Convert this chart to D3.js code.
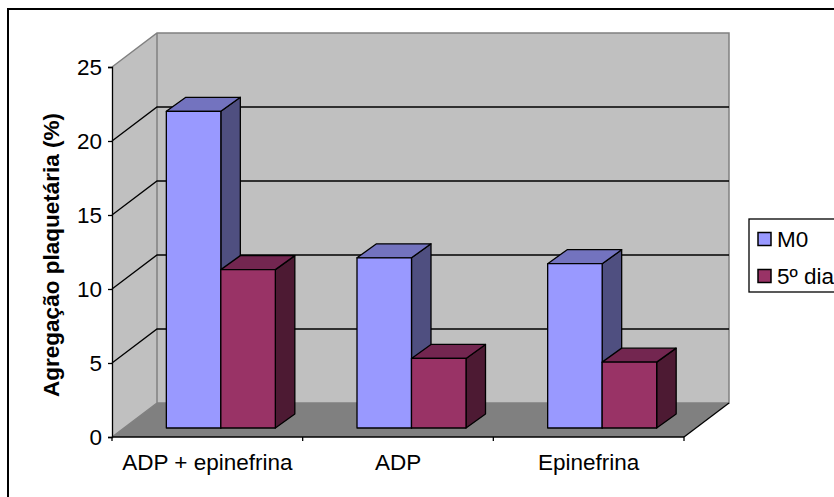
<!DOCTYPE html>
<html><head><meta charset="utf-8"><script src="https://cdn.jsdelivr.net/npm/d3@7"></script>
<style>html,body{margin:0;padding:0;background:#fff;overflow:hidden}svg{display:block}text{font-family:"Liberation Sans",Arial,sans-serif;fill:#000}</style></head>
<body><svg id="c" width="834" height="497"></svg>
<script>
const categories = ["ADP + epinefrina", "ADP", "Epinefrina"];
const seriesNames = ["M0", "5º dia"];
const m0Values = [21.4, 11.5, 11.1];
const dia5Values = [10.7, 4.7, 4.45];
const yTicks = [0, 5, 10, 15, 20, 25];
const colors = ["#9999ff", "#993366"];
const sideColors = ["#4f4f80", "#4d1a33"];
const topColors = ["#7373bf", "#732650"];

const svg = d3.select("#c");
const FS = "22.5px";
const D = {dx: 45, dy: -34};
const y = d3.scaleLinear().domain([0, 25]).range([437, 67]);
const x = d3.scaleBand().domain(categories).range([112, 684]);
const poly = p => p.map(a => a.join(",")).join(" ");

svg.append("rect").attr("x", 8).attr("y", 9).attr("width", 900).attr("height", 600)
  .attr("fill", "#fff").attr("stroke", "#000").attr("stroke-width", 2);

const x0 = 112, x1 = 684, yb = y(0), yt = y(25);
const wall = "#c0c0c0", edge = "#808080";
svg.append("polygon").attr("points", poly([[x0, yb], [x0 + D.dx, yb + D.dy], [x0 + D.dx, yt + D.dy], [x0, yt]])).attr("fill", wall);
svg.append("rect").attr("x", x0 + D.dx).attr("y", yt + D.dy).attr("width", x1 - x0).attr("height", yb - yt).attr("fill", wall);
svg.append("polygon").attr("points", poly([[x0, yb], [x1, yb], [x1 + D.dx, yb + D.dy], [x0 + D.dx, yb + D.dy]])).attr("fill", "#808080");

svg.append("path").attr("fill", "none").attr("stroke", edge).attr("stroke-width", 1.5)
  .attr("d", `M${x0},${yt}L${x0 + D.dx},${yt + D.dy}H${x1 + D.dx}V${yb + D.dy}H${x0 + D.dx}V${yt + D.dy} M${x0},${yb}L${x0 + D.dx},${yb + D.dy}`);

yTicks.filter(t => t > 0 && t < 25).forEach(t => {
  svg.append("path").attr("fill", "none").attr("stroke", "#000").attr("stroke-width", 1.3)
    .attr("d", `M${x0},${y(t)}L${x0 + D.dx},${y(t) + D.dy}H${x1 + D.dx}`);
});

svg.append("line").attr("x1", x1).attr("y1", yb).attr("x2", x1 + D.dx).attr("y2", yb + D.dy).attr("stroke", "#000").attr("stroke-width", 1.3);

// bars
const shift = {x: 12, y: -9}, depth = {x: 19.5, y: -14};
const groupW = 109;
const inner = d3.scaleBand().domain([0, 1]).range([0, groupW]);
const groupOffset = (x.bandwidth() - groupW) / 2 + shift.x + 1.5;
const series = [m0Values, dia5Values];
categories.forEach((c, ci) => {
  [0, 1].forEach(si => {
    const v = series[si][ci];
    const L = x(c) + groupOffset + inner(si), R = L + inner.bandwidth();
    const B = y(0) + shift.y, T = y(v) + shift.y;
    const g = svg.append("g").attr("stroke", "#000").attr("stroke-width", 1.3).attr("stroke-linejoin", "round");
    g.append("polygon").attr("points", poly([[R, T], [R + depth.x, T + depth.y], [R + depth.x, B + depth.y], [R, B]])).attr("fill", sideColors[si]);
    g.append("polygon").attr("points", poly([[L, T], [L + depth.x, T + depth.y], [R + depth.x, T + depth.y], [R, T]])).attr("fill", topColors[si]);
    g.append("rect").attr("x", L).attr("y", T).attr("width", R - L).attr("height", B - T).attr("fill", colors[si]);
  });
});

// axes
const yAxis = d3.axisLeft(y).tickValues(yTicks).tickSize(4).tickPadding(6);
const gy = svg.append("g").attr("transform", `translate(${x0},0)`).call(yAxis);
gy.select(".domain").attr("stroke", "#000").attr("stroke-width", 1.3);
gy.selectAll("line").attr("stroke", "#000").attr("stroke-width", 1.3);
gy.selectAll("text").style("font-family", '"Liberation Sans",Arial,sans-serif').style("font-size", FS);

const xAxis = d3.axisBottom(x).tickSize(0).tickPadding(17.5);
const gx = svg.append("g").attr("transform", `translate(0,${yb})`).call(xAxis);
gx.select(".domain").remove();
gx.selectAll("text").style("font-family", '"Liberation Sans",Arial,sans-serif').style("font-size", FS);
svg.append("line").attr("x1", x0).attr("x2", x1).attr("y1", yb).attr("y2", yb).attr("stroke", "#000").attr("stroke-width", 1.5);
[...categories.map(c => x(c)), x1].forEach(t => svg.append("line").attr("x1", t).attr("x2", t).attr("y1", yb).attr("y2", yb + 4).attr("stroke", "#000").attr("stroke-width", 1.3));

svg.append("text").attr("transform", "translate(59,255) rotate(-90)").attr("text-anchor", "middle")
  .style("font-size", FS).style("font-weight", "bold").text("Agregação plaquetária (%)");

// legend
svg.append("rect").attr("x", 749).attr("y", 219).attr("width", 120).attr("height", 73).attr("fill", "#fff").attr("stroke", "#000").attr("stroke-width", 1.3);
seriesNames.forEach((n, i) => {
  const ly = 239 + i * 37;
  svg.append("rect").attr("x", 758).attr("y", ly - 6.5).attr("width", 13).attr("height", 13).attr("fill", colors[i]).attr("stroke", "#000").attr("stroke-width", 1.5);
  svg.append("text").attr("x", 777).attr("y", ly + 7.5).style("font-size", FS).text(n);
});
</script></body></html>
